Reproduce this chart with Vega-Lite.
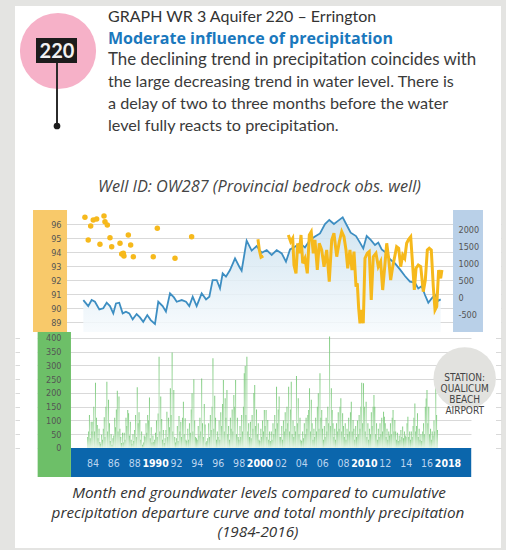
{
"$schema":"https://vega.github.io/schema/vega-lite/v6.json",
"background":"#e4e4e2",
"padding":{"left":15,"top":6,"right":5,"bottom":2},
"spacing":0,
"config":{"view":{"stroke":null,"fill":"white"},"concat":{"spacing":0},"axis":{"labelOverlap":false,"labelBound":false}},
"resolve":{"scale":{"x":"independent","y":"independent"}},
"datasets":{
"level":[{"t":1983.47,"v":90.57},{"t":1983.93,"v":90.14},{"t":1984.25,"v":90.57},{"t":1984.56,"v":90.45},{"t":1984.97,"v":89.9},{"t":1985.34,"v":89.98},{"t":1985.66,"v":90.38},{"t":1985.97,"v":90.14},{"t":1986.28,"v":89.62},{"t":1986.53,"v":90.33},{"t":1986.84,"v":90.38},{"t":1987.16,"v":89.62},{"t":1987.47,"v":89.74},{"t":1987.78,"v":89.62},{"t":1988.10,"v":89.19},{"t":1988.47,"v":89.57},{"t":1988.78,"v":89.33},{"t":1989.09,"v":89.02},{"t":1989.47,"v":89.5},{"t":1989.79,"v":89.14},{"t":1990.19,"v":88.86},{"t":1990.50,"v":90.45},{"t":1990.91,"v":90.14},{"t":1991.22,"v":89.74},{"t":1991.60,"v":91.05},{"t":1991.97,"v":90.76},{"t":1992.23,"v":90.45},{"t":1992.70,"v":90.57},{"t":1993.10,"v":90.45},{"t":1993.41,"v":90.14},{"t":1993.73,"v":90.81},{"t":1994.10,"v":90.14},{"t":1994.57,"v":91.05},{"t":1994.98,"v":90.62},{"t":1995.29,"v":90.81},{"t":1995.60,"v":92.0},{"t":1995.98,"v":92.0},{"t":1996.29,"v":91.4},{"t":1996.54,"v":92.48},{"t":1996.85,"v":92.24},{"t":1997.23,"v":92.71},{"t":1997.70,"v":93.55},{"t":1998.10,"v":92.95},{"t":1998.32,"v":92.67},{"t":1998.79,"v":94.81},{"t":1999.26,"v":94.1},{"t":1999.73,"v":94.43},{"t":2000.20,"v":93.95},{"t":2000.67,"v":94.14},{"t":2001.14,"v":93.79},{"t":2001.61,"v":94.14},{"t":2002.08,"v":93.9},{"t":2002.48,"v":93.31},{"t":2002.86,"v":94.19},{"t":2003.32,"v":94.38},{"t":2003.79,"v":94.62},{"t":2004.26,"v":94.33},{"t":2004.73,"v":94.86},{"t":2005.20,"v":95.1},{"t":2005.67,"v":95.33},{"t":2006.14,"v":96.0},{"t":2006.54,"v":96.29},{"t":2006.98,"v":96.0},{"t":2007.39,"v":96.24},{"t":2007.80,"v":96.48},{"t":2008.17,"v":95.93},{"t":2008.55,"v":95.38},{"t":2009.05,"v":95.14},{"t":2009.42,"v":94.67},{"t":2009.73,"v":94.26},{"t":2010.05,"v":95.14},{"t":2010.43,"v":94.86},{"t":2010.83,"v":94.5},{"t":2011.14,"v":94.67},{"t":2011.46,"v":94.19},{"t":2011.86,"v":93.95},{"t":2012.24,"v":93.48},{"t":2012.71,"v":93.19},{"t":2013.17,"v":92.76},{"t":2013.64,"v":92.29},{"t":2014.11,"v":91.88},{"t":2014.58,"v":91.81},{"t":2014.89,"v":91.4},{"t":2015.21,"v":91.57},{"t":2015.52,"v":90.93},{"t":2015.83,"v":90.38},{"t":2016.15,"v":90.69},{"t":2016.46,"v":90.93},{"t":2016.77,"v":90.52},{"t":2016.99,"v":90.62}],
"depPts":[{"t":1983.62,"d":2374},{"t":1984.16,"d":2118},{"t":1984.40,"d":2294},{"t":1984.72,"d":2324},{"t":1985.41,"d":2412},{"t":1985.50,"d":2244},{"t":1985.72,"d":2147},{"t":1983.93,"d":1706},{"t":1985.03,"d":1579},{"t":1985.97,"d":1774},{"t":1986.13,"d":1509},{"t":1986.91,"d":1609},{"t":1987.69,"d":1853},{"t":1987.91,"d":1559},{"t":1987.07,"d":1294},{"t":1987.28,"d":1235},{"t":1987.22,"d":1315},{"t":1988.16,"d":1215},{"t":1990.03,"d":1215},{"t":1990.41,"d":2050},{"t":1992.07,"d":1168},{"t":1993.63,"d":1803}],
"dep":[{"s":"a","t":1999.85,"d":1726},{"s":"a","t":1999.98,"d":1412},{"s":"a","t":2000.14,"d":1197},{"s":"a","t":2000.35,"d":1235},
{"s":"b","t":2002.70,"d":1853},{"s":"b","t":2002.92,"d":1656},{"s":"b","t":2003.11,"d":1756},{"s":"b","t":2003.23,"d":971},{"s":"b","t":2003.42,"d":726},{"s":"b","t":2003.58,"d":1609},{"s":"b","t":2003.73,"d":1315},{"s":"b","t":2003.89,"d":1853},{"s":"b","t":2004.05,"d":1021},{"s":"b","t":2004.26,"d":1168},{"s":"b","t":2004.48,"d":726},{"s":"b","t":2004.67,"d":1853},{"s":"b","t":2004.85,"d":1950},{"s":"b","t":2005.04,"d":1315},{"s":"b","t":2005.20,"d":1706},{"s":"b","t":2005.42,"d":824},{"s":"b","t":2005.60,"d":1609},{"s":"b","t":2005.83,"d":1412},{"s":"b","t":2006.05,"d":921},{"s":"b","t":2006.30,"d":1412},{"s":"b","t":2006.54,"d":479},{"s":"b","t":2006.77,"d":1706},{"s":"b","t":2006.98,"d":1903},{"s":"b","t":2007.24,"d":1215},{"s":"b","t":2007.48,"d":1656},{"s":"b","t":2007.71,"d":1950},{"s":"b","t":2007.92,"d":1803},{"s":"b","t":2008.11,"d":1412},{"s":"b","t":2008.27,"d":874},{"s":"b","t":2008.48,"d":1412},{"s":"b","t":2008.67,"d":824},{"s":"b","t":2008.86,"d":1362},{"s":"b","t":2009.05,"d":332},{"s":"b","t":2009.17,"d":432},{"s":"b","t":2009.30,"d":-303},{"s":"b","t":2009.42,"d":-744},{"s":"b","t":2009.58,"d":-353},{"s":"b","t":2009.73,"d":-744},{"s":"b","t":2009.89,"d":1168},{"s":"b","t":2010.11,"d":1315},{"s":"b","t":2010.29,"d":1362},{"s":"b","t":2010.48,"d":-59},{"s":"b","t":2010.67,"d":1215},{"s":"b","t":2010.92,"d":1315},{"s":"b","t":2011.14,"d":921},{"s":"b","t":2011.36,"d":1068},{"s":"b","t":2011.55,"d":235},{"s":"b","t":2011.77,"d":1021},{"s":"b","t":2011.93,"d":1609},{"s":"b","t":2012.11,"d":1168},{"s":"b","t":2012.30,"d":529},{"s":"b","t":2012.49,"d":921},{"s":"b","t":2012.71,"d":1265},{"s":"b","t":2012.86,"d":1509},{"s":"b","t":2013.05,"d":1462},{"s":"b","t":2013.24,"d":921},{"s":"b","t":2013.43,"d":1265},{"s":"b","t":2013.62,"d":1168},{"s":"b","t":2013.80,"d":1609},{"s":"b","t":2013.99,"d":1726},{"s":"b","t":2014.18,"d":1803},{"s":"b","t":2014.37,"d":921},{"s":"b","t":2014.52,"d":235},{"s":"b","t":2014.68,"d":874},{"s":"b","t":2014.89,"d":971},{"s":"b","t":2015.12,"d":921},{"s":"b","t":2015.36,"d":185},{"s":"b","t":2015.55,"d":529},{"s":"b","t":2015.74,"d":1412},{"s":"b","t":2015.92,"d":1462},{"s":"b","t":2016.11,"d":1412},{"s":"b","t":2016.30,"d":332},{"s":"b","t":2016.46,"d":-353},{"s":"b","t":2016.62,"d":-256},{"s":"b","t":2016.80,"d":824},{"s":"b","t":2016.99,"d":579},{"s":"b","t":2017.11,"d":824}],
"precip":[
{"t":1983.54,"p":40},{"t":1983.63,"p":60},{"t":1983.71,"p":120},{"t":1983.79,"p":35},{"t":1983.88,"p":95},{"t":1983.96,"p":60},
{"t":1984.04,"p":95},{"t":1984.13,"p":150},{"t":1984.21,"p":60},{"t":1984.29,"p":237},{"t":1984.38,"p":110},{"t":1984.46,"p":84},{"t":1984.54,"p":35},{"t":1984.63,"p":70},{"t":1984.71,"p":22},{"t":1984.79,"p":15},{"t":1984.88,"p":48},{"t":1984.96,"p":30},
{"t":1985.04,"p":70},{"t":1985.13,"p":112},{"t":1985.21,"p":40},{"t":1985.29,"p":150},{"t":1985.38,"p":241},{"t":1985.46,"p":60},{"t":1985.54,"p":175},{"t":1985.63,"p":90},{"t":1985.71,"p":25},{"t":1985.79,"p":50},{"t":1985.88,"p":12},{"t":1985.96,"p":35},
{"t":1986.04,"p":45},{"t":1986.13,"p":110},{"t":1986.21,"p":75},{"t":1986.29,"p":140},{"t":1986.38,"p":208},{"t":1986.46,"p":60},{"t":1986.54,"p":187},{"t":1986.63,"p":70},{"t":1986.71,"p":40},{"t":1986.79,"p":18},{"t":1986.88,"p":55},{"t":1986.96,"p":20},
{"t":1987.04,"p":55},{"t":1987.13,"p":30},{"t":1987.21,"p":110},{"t":1987.29,"p":80},{"t":1987.38,"p":138},{"t":1987.46,"p":126},{"t":1987.54,"p":45},{"t":1987.63,"p":95},{"t":1987.71,"p":30},{"t":1987.79,"p":15},{"t":1987.88,"p":50},{"t":1987.96,"p":25},
{"t":1988.04,"p":65},{"t":1988.13,"p":120},{"t":1988.21,"p":40},{"t":1988.29,"p":221},{"t":1988.38,"p":90},{"t":1988.46,"p":130},{"t":1988.54,"p":102},{"t":1988.63,"p":30},{"t":1988.71,"p":60},{"t":1988.79,"p":12},{"t":1988.88,"p":20},{"t":1988.96,"p":45},
{"t":1989.04,"p":40},{"t":1989.13,"p":90},{"t":1989.21,"p":55},{"t":1989.29,"p":120},{"t":1989.38,"p":100},{"t":1989.46,"p":184},{"t":1989.54,"p":35},{"t":1989.63,"p":75},{"t":1989.71,"p":20},{"t":1989.79,"p":45},{"t":1989.88,"p":22},{"t":1989.96,"p":30},
{"t":1990.04,"p":55},{"t":1990.13,"p":100},{"t":1990.21,"p":40},{"t":1990.29,"p":125},{"t":1990.38,"p":332},{"t":1990.46,"p":60},{"t":1990.54,"p":187},{"t":1990.63,"p":105},{"t":1990.71,"p":30},{"t":1990.79,"p":65},{"t":1990.88,"p":18},{"t":1990.96,"p":35},
{"t":1991.04,"p":65},{"t":1991.13,"p":132},{"t":1991.21,"p":40},{"t":1991.29,"p":110},{"t":1991.38,"p":75},{"t":1991.46,"p":217},{"t":1991.54,"p":120},{"t":1991.63,"p":347},{"t":1991.71,"p":60},{"t":1991.79,"p":211},{"t":1991.88,"p":40},{"t":1991.96,"p":20},
{"t":1992.04,"p":35},{"t":1992.13,"p":80},{"t":1992.21,"p":25},{"t":1992.29,"p":116},{"t":1992.38,"p":60},{"t":1992.46,"p":95},{"t":1992.54,"p":40},{"t":1992.63,"p":110},{"t":1992.71,"p":168},{"t":1992.79,"p":50},{"t":1992.88,"p":108},{"t":1992.96,"p":30},
{"t":1993.04,"p":25},{"t":1993.13,"p":70},{"t":1993.21,"p":30},{"t":1993.29,"p":90},{"t":1993.38,"p":55},{"t":1993.46,"p":140},{"t":1993.54,"p":199},{"t":1993.63,"p":60},{"t":1993.71,"p":250},{"t":1993.79,"p":100},{"t":1993.88,"p":40},{"t":1993.96,"p":35},
{"t":1994.04,"p":30},{"t":1994.13,"p":80},{"t":1994.21,"p":45},{"t":1994.29,"p":110},{"t":1994.38,"p":60},{"t":1994.46,"p":253},{"t":1994.54,"p":90},{"t":1994.63,"p":40},{"t":1994.71,"p":160},{"t":1994.79,"p":85},{"t":1994.88,"p":20},{"t":1994.96,"p":25},
{"t":1995.04,"p":35},{"t":1995.13,"p":90},{"t":1995.21,"p":40},{"t":1995.29,"p":120},{"t":1995.38,"p":65},{"t":1995.46,"p":150},{"t":1995.54,"p":326},{"t":1995.63,"p":70},{"t":1995.71,"p":190},{"t":1995.79,"p":110},{"t":1995.88,"p":30},{"t":1995.96,"p":60},
{"t":1996.04,"p":40},{"t":1996.13,"p":100},{"t":1996.21,"p":30},{"t":1996.29,"p":130},{"t":1996.38,"p":80},{"t":1996.46,"p":160},{"t":1996.54,"p":247},{"t":1996.63,"p":60},{"t":1996.71,"p":181},{"t":1996.79,"p":110},{"t":1996.88,"p":211},{"t":1996.96,"p":50},
{"t":1997.04,"p":80},{"t":1997.13,"p":30},{"t":1997.21,"p":110},{"t":1997.29,"p":70},{"t":1997.38,"p":140},{"t":1997.46,"p":60},{"t":1997.54,"p":193},{"t":1997.63,"p":150},{"t":1997.71,"p":247},{"t":1997.79,"p":50},{"t":1997.88,"p":110},{"t":1997.96,"p":40},
{"t":1998.04,"p":30},{"t":1998.13,"p":80},{"t":1998.21,"p":40},{"t":1998.29,"p":120},{"t":1998.38,"p":60},{"t":1998.46,"p":150},{"t":1998.54,"p":272},{"t":1998.63,"p":298},{"t":1998.71,"p":120},{"t":1998.79,"p":332},{"t":1998.88,"p":60},{"t":1998.96,"p":90},
{"t":1999.04,"p":40},{"t":1999.13,"p":95},{"t":1999.21,"p":35},{"t":1999.29,"p":120},{"t":1999.38,"p":70},{"t":1999.46,"p":200},{"t":1999.54,"p":229},{"t":1999.63,"p":80},{"t":1999.71,"p":140},{"t":1999.79,"p":50},{"t":1999.88,"p":90},{"t":1999.96,"p":30},
{"t":2000.04,"p":25},{"t":2000.13,"p":70},{"t":2000.21,"p":40},{"t":2000.29,"p":100},{"t":2000.38,"p":60},{"t":2000.46,"p":138},{"t":2000.54,"p":80},{"t":2000.63,"p":138},{"t":2000.71,"p":40},{"t":2000.79,"p":102},{"t":2000.88,"p":30},{"t":2000.96,"p":60},
{"t":2001.04,"p":25},{"t":2001.13,"p":60},{"t":2001.21,"p":30},{"t":2001.29,"p":90},{"t":2001.38,"p":50},{"t":2001.46,"p":120},{"t":2001.54,"p":70},{"t":2001.63,"p":223},{"t":2001.71,"p":90},{"t":2001.79,"p":140},{"t":2001.88,"p":187},{"t":2001.96,"p":40},
{"t":2002.04,"p":40},{"t":2002.13,"p":80},{"t":2002.21,"p":30},{"t":2002.29,"p":100},{"t":2002.38,"p":60},{"t":2002.46,"p":130},{"t":2002.54,"p":70},{"t":2002.63,"p":150},{"t":2002.71,"p":90},{"t":2002.79,"p":223},{"t":2002.88,"p":60},{"t":2002.96,"p":140},
{"t":2003.04,"p":241},{"t":2003.13,"p":50},{"t":2003.21,"p":100},{"t":2003.29,"p":40},{"t":2003.38,"p":80},{"t":2003.46,"p":60},{"t":2003.54,"p":262},{"t":2003.63,"p":90},{"t":2003.71,"p":181},{"t":2003.79,"p":50},{"t":2003.88,"p":110},{"t":2003.96,"p":30},
{"t":2004.04,"p":25},{"t":2004.13,"p":60},{"t":2004.21,"p":35},{"t":2004.29,"p":90},{"t":2004.38,"p":50},{"t":2004.46,"p":110},{"t":2004.54,"p":70},{"t":2004.63,"p":120},{"t":2004.71,"p":138},{"t":2004.79,"p":217},{"t":2004.88,"p":60},{"t":2004.96,"p":175},
{"t":2005.04,"p":90},{"t":2005.13,"p":30},{"t":2005.21,"p":70},{"t":2005.29,"p":40},{"t":2005.38,"p":110},{"t":2005.46,"p":60},{"t":2005.54,"p":150},{"t":2005.63,"p":199},{"t":2005.71,"p":70},{"t":2005.79,"p":272},{"t":2005.88,"p":110},{"t":2005.96,"p":138},
{"t":2006.04,"p":70},{"t":2006.13,"p":30},{"t":2006.21,"p":80},{"t":2006.29,"p":40},{"t":2006.38,"p":110},{"t":2006.46,"p":60},{"t":2006.54,"p":150},{"t":2006.63,"p":90},{"t":2006.71,"p":405},{"t":2006.79,"p":80},{"t":2006.88,"p":217},{"t":2006.96,"p":138},
{"t":2007.04,"p":90},{"t":2007.13,"p":40},{"t":2007.21,"p":70},{"t":2007.29,"p":30},{"t":2007.38,"p":90},{"t":2007.46,"p":60},{"t":2007.54,"p":130},{"t":2007.63,"p":70},{"t":2007.71,"p":150},{"t":2007.79,"p":181},{"t":2007.88,"p":60},{"t":2007.96,"p":126},
{"t":2008.04,"p":80},{"t":2008.13,"p":40},{"t":2008.21,"p":90},{"t":2008.29,"p":30},{"t":2008.38,"p":70},{"t":2008.46,"p":50},{"t":2008.54,"p":110},{"t":2008.63,"p":60},{"t":2008.71,"p":130},{"t":2008.79,"p":168},{"t":2008.88,"p":60},{"t":2008.96,"p":102},
{"t":2009.04,"p":70},{"t":2009.13,"p":30},{"t":2009.21,"p":80},{"t":2009.29,"p":40},{"t":2009.38,"p":100},{"t":2009.46,"p":50},{"t":2009.54,"p":120},{"t":2009.63,"p":70},{"t":2009.71,"p":150},{"t":2009.79,"p":237},{"t":2009.88,"p":90},{"t":2009.96,"p":235},
{"t":2010.04,"p":150},{"t":2010.13,"p":60},{"t":2010.21,"p":168},{"t":2010.29,"p":40},{"t":2010.38,"p":90},{"t":2010.46,"p":30},{"t":2010.54,"p":70},{"t":2010.63,"p":50},{"t":2010.71,"p":130},{"t":2010.79,"p":80},{"t":2010.88,"p":150},{"t":2010.96,"p":193},
{"t":2011.04,"p":150},{"t":2011.13,"p":50},{"t":2011.21,"p":90},{"t":2011.29,"p":30},{"t":2011.38,"p":70},{"t":2011.46,"p":40},{"t":2011.54,"p":90},{"t":2011.63,"p":50},{"t":2011.71,"p":110},{"t":2011.79,"p":60},{"t":2011.88,"p":132},{"t":2011.96,"p":114},
{"t":2012.04,"p":90},{"t":2012.13,"p":40},{"t":2012.21,"p":70},{"t":2012.29,"p":30},{"t":2012.38,"p":60},{"t":2012.46,"p":45},{"t":2012.54,"p":90},{"t":2012.63,"p":50},{"t":2012.71,"p":110},{"t":2012.79,"p":138},{"t":2012.88,"p":60},{"t":2012.96,"p":102},
{"t":2013.04,"p":60},{"t":2013.13,"p":30},{"t":2013.21,"p":55},{"t":2013.29,"p":25},{"t":2013.38,"p":45},{"t":2013.46,"p":30},{"t":2013.54,"p":65},{"t":2013.63,"p":40},{"t":2013.71,"p":78},{"t":2013.79,"p":35},{"t":2013.88,"p":60},{"t":2013.96,"p":45},
{"t":2014.04,"p":40},{"t":2014.13,"p":90},{"t":2014.21,"p":114},{"t":2014.29,"p":40},{"t":2014.38,"p":60},{"t":2014.46,"p":30},{"t":2014.54,"p":60},{"t":2014.63,"p":40},{"t":2014.71,"p":80},{"t":2014.79,"p":110},{"t":2014.88,"p":162},{"t":2014.96,"p":60},
{"t":2015.04,"p":80},{"t":2015.13,"p":126},{"t":2015.21,"p":40},{"t":2015.29,"p":70},{"t":2015.38,"p":30},{"t":2015.46,"p":50},{"t":2015.54,"p":25},{"t":2015.63,"p":60},{"t":2015.71,"p":90},{"t":2015.79,"p":50},{"t":2015.88,"p":150},{"t":2015.96,"p":180},
{"t":2016.04,"p":211},{"t":2016.13,"p":90},{"t":2016.21,"p":150},{"t":2016.29,"p":50},{"t":2016.38,"p":70},{"t":2016.46,"p":30},{"t":2016.54,"p":60},{"t":2016.63,"p":45},{"t":2016.71,"p":100},{"t":2016.79,"p":60},{"t":2016.88,"p":229},{"t":2016.96,"p":120},
{"t":2017.04,"p":65}
]
},
"vconcat":[
{
"width":486,"height":204,
"data":{"values":[{}]},
"layer":[
{"mark":{"type":"point","filled":true,"fill":"#f6b1c8","opacity":1,"strokeWidth":0,"size":5800},
 "encoding":{"x":{"datum":43,"type":"quantitative","scale":{"domain":[0,486],"nice":false,"zero":false},"axis":null},
 "y":{"datum":45,"type":"quantitative","scale":{"domain":[0,204],"nice":false,"zero":false,"reverse":true},"axis":null}}},
{"mark":{"type":"rule","color":"#2b2b2b","strokeWidth":2},
 "encoding":{"x":{"datum":42,"type":"quantitative","axis":null},"y":{"datum":57,"type":"quantitative","axis":null},"y2":{"datum":120}}},
{"mark":{"type":"rect","color":"#1c1c1c"},
 "encoding":{"x":{"datum":21,"type":"quantitative","axis":null},"x2":{"datum":62},"y":{"datum":32,"type":"quantitative","axis":null},"y2":{"datum":57}}},
{"mark":{"type":"text","font":"Lato","fontWeight":"bold","fontSize":20,"color":"#f2f2f2","align":"center","baseline":"middle"},
 "encoding":{"x":{"datum":42,"type":"quantitative","axis":null},"y":{"datum":45.5,"type":"quantitative","axis":null},"text":{"value":"220"}}},
{"mark":{"type":"point","filled":true,"color":"#1c1c1c","opacity":1,"size":45},
 "encoding":{"x":{"datum":42,"type":"quantitative","axis":null},"y":{"datum":120,"type":"quantitative","axis":null}}},
{"mark":{"type":"text","font":"Lato","fontSize":16,"color":"#333333","align":"left","baseline":"middle"},
 "encoding":{"x":{"datum":93,"type":"quantitative","axis":null},"y":{"datum":11,"type":"quantitative","axis":null},"text":{"value":"GRAPH WR 3 Aquifer 220 – Errington"}}},
{"mark":{"type":"text","font":"Open Sans","fontSize":16,"fontWeight":"bold","color":"#1a78bd","align":"left","baseline":"middle"},
 "encoding":{"x":{"datum":93,"type":"quantitative","axis":null},"y":{"datum":33,"type":"quantitative","axis":null},"text":{"value":"Moderate influence of precipitation"}}},
{"mark":{"type":"text","font":"Lato","fontSize":16.9,"color":"#3a3a3a","align":"left","baseline":"middle"},
 "encoding":{"x":{"datum":93,"type":"quantitative","axis":null},"y":{"datum":54,"type":"quantitative","axis":null},"text":{"value":"The declining trend in precipitation coincides with"}}},
{"mark":{"type":"text","font":"Lato","fontSize":16.2,"color":"#3a3a3a","align":"left","baseline":"middle"},
 "encoding":{"x":{"datum":93,"type":"quantitative","axis":null},"y":{"datum":76,"type":"quantitative","axis":null},"text":{"value":"the large decreasing trend in water level. There is"}}},
{"mark":{"type":"text","font":"Lato","fontSize":16.2,"color":"#3a3a3a","align":"left","baseline":"middle"},
 "encoding":{"x":{"datum":93,"type":"quantitative","axis":null},"y":{"datum":98,"type":"quantitative","axis":null},"text":{"value":"a delay of two to three months before the water"}}},
{"mark":{"type":"text","font":"Lato","fontSize":16.2,"color":"#3a3a3a","align":"left","baseline":"middle"},
 "encoding":{"x":{"datum":93,"type":"quantitative","axis":null},"y":{"datum":120,"type":"quantitative","axis":null},"text":{"value":"level fully reacts to precipitation."}}},
{"mark":{"type":"text","font":"Open Sans","fontStyle":"italic","fontSize":16.3,"color":"#444444","align":"center","baseline":"middle"},
 "encoding":{"x":{"datum":244.5,"type":"quantitative","axis":null},"y":{"datum":181,"type":"quantitative","axis":null},"text":{"value":"Well ID: OW287  (Provincial bedrock obs. well)"}}}
]
},
{
"width":486,"height":122,
"layer":[
{"layer":[
 {"data":{"name":"level"},
  "mark":{"type":"area","opacity":0.85,"fill":{"gradient":"linear","x1":0,"y1":0,"x2":0,"y2":1,"stops":[{"offset":0,"color":"#c9e0ee"},{"offset":1,"color":"#f6fafd"}]}},
  "encoding":{"x":{"field":"t","type":"quantitative","scale":{"domain":[1977.06,2022.65],"nice":false,"zero":false},"axis":null},
   "y":{"field":"v","type":"quantitative","scale":{"domain":[88.29,97],"nice":false,"zero":false},
    "axis":{"orient":"left","title":null,"values":[89,90,91,92,93,94,95,96],"tickCount":50,"labels":false,"domain":false,"ticks":false,"grid":true,"gridColor":"#d9d9d9","gridWidth":1}},
   "y2":{"datum":88.29}}},
 {"data":{"name":"level"},
  "mark":{"type":"line","color":"#3d8ec2","strokeWidth":1.8},
  "encoding":{"x":{"field":"t","type":"quantitative"},"y":{"field":"v","type":"quantitative"}}},
 {"data":{"values":[{}]},
  "mark":{"type":"rect","color":"white"},
  "encoding":{"x":{"datum":1977.06,"type":"quantitative"},"x2":{"datum":1978.75},"y":{"datum":88.29,"type":"quantitative"},"y2":{"datum":97}}},
 {"data":{"values":[{}]},
  "mark":{"type":"rect","color":"white"},
  "encoding":{"x":{"datum":2020.96,"type":"quantitative"},"x2":{"datum":2022.65},"y":{"datum":88.29,"type":"quantitative"},"y2":{"datum":97}}}
]},
{"data":{"values":[{}]},
 "mark":{"type":"rect","color":"#f8c96a"},
 "encoding":{"x":{"datum":1978.75,"type":"quantitative"},"x2":{"datum":1981.94},
  "y":{"datum":88.29,"type":"quantitative","scale":{"domain":[88.29,97],"nice":false,"zero":false},
   "axis":{"orient":"left","offset":-35,"zindex":1,"title":null,"values":[89,90,91,92,93,94,95,96],"tickCount":50,"labelExpr":"'' + datum.value","domain":false,"ticks":false,"grid":false,"labelPadding":-11,"labelOverlap":false,"labelFont":"Liberation Sans Narrow, DejaVu Sans Condensed, Roboto, sans-serif","labelFontSize":9,"labelColor":"#555555"}},
  "y2":{"datum":97}}},
{"layer":[
 {"data":{"values":[{}]},
  "mark":{"type":"rect","color":"#b9d0e8"},
  "encoding":{"x":{"datum":2018.15,"type":"quantitative"},"x2":{"datum":2020.96},"y":{"datum":-1000,"type":"quantitative","scale":{"domain":[-1000,2588],"nice":false,"zero":false},
   "axis":{"orient":"right","offset":-33,"zindex":1,"title":null,"values":[-500,0,500,1000,1500,2000],"tickCount":50,"labelExpr":"'' + datum.value","domain":false,"ticks":false,"grid":false,"labelPadding":-10,"labelOverlap":false,"labelFont":"Liberation Sans Narrow, DejaVu Sans Condensed, Roboto, sans-serif","labelFontSize":9,"labelColor":"#555555"}},"y2":{"datum":2588}}},
 {"data":{"name":"depPts"},
  "mark":{"type":"point","filled":true,"color":"#f6b91c","opacity":1,"size":30},
  "encoding":{"x":{"field":"t","type":"quantitative"},"y":{"field":"d","type":"quantitative"}}},
 {"data":{"name":"dep"},
  "mark":{"type":"line","color":"#f6b91c","strokeWidth":3,"strokeJoin":"miter"},
  "encoding":{"x":{"field":"t","type":"quantitative"},"y":{"field":"d","type":"quantitative"},"detail":{"field":"s"}}}
]}
],
"resolve":{"scale":{"y":"independent"},"axis":{"y":"independent"}}
},
{
"width":486,"height":145,
"layer":[
{"layer":[
 {"data":{"name":"precip"},
  "mark":{"type":"bar","size":1,"opacity":0.85,"fill":{"gradient":"linear","x1":0,"y1":0,"x2":0,"y2":1,"stops":[{"offset":0,"color":"#6cc46c"},{"offset":1,"color":"#dff2df"}]}},
  "encoding":{"x":{"field":"t","type":"quantitative","scale":{"domain":[1977.06,2022.65],"nice":false,"zero":false},
    "axis":{"orient":"bottom","offset":-28,"zindex":1,"title":null,"values":[1984,1986,1988,1990,1992,1994,1996,1998,2000,2002,2004,2006,2008,2010,2012,2014,2016,2018],"tickCount":50,
     "labelExpr":"indexof([1990,2000,2010,2018], datum.value) >= 0 ? '' + datum.value : slice('' + datum.value, 2)",
     "labelFontWeight":{"condition":{"test":"indexof([1990,2000,2010,2018], datum.value) >= 0","value":"bold"},"value":"normal"},
     "labelColor":{"condition":{"test":"indexof([1990,2000,2010,2018], datum.value) >= 0","value":"#ffffff"},"value":"#bdd5ef"},
     "labelFont":"Liberation Sans Narrow, DejaVu Sans Condensed, Roboto, sans-serif","labelFontSize":10.5,"labelBaseline":"middle","labelPadding":14,"labelOverlap":false,"labelFlush":false,"labelBound":false,"domain":false,"ticks":false,"grid":false}},
   "y":{"field":"p","type":"quantitative","scale":{"domain":[-105.5,421.8],"nice":false,"zero":false},
    "axis":{"orient":"left","title":null,"values":[0,50,100,150,200,250,300,350,400],"tickCount":50,"labels":false,"domain":false,"ticks":false,"grid":true,"gridColor":"#d9d9d9","gridWidth":1}}}},
 {"data":{"values":[{}]},
  "mark":{"type":"rect","color":"#0b66ac"},
  "encoding":{"x":{"datum":1981.94,"type":"quantitative"},"x2":{"datum":2020.30},"y":{"datum":-105.5,"type":"quantitative"},"y2":{"datum":0}}},
 {"data":{"values":[{}]},
  "mark":{"type":"rect","color":"white"},
  "encoding":{"x":{"datum":1977.06,"type":"quantitative"},"x2":{"datum":1978.75},"y":{"datum":-105.5,"type":"quantitative"},"y2":{"datum":421.8}}},
 {"data":{"values":[{}]},
  "mark":{"type":"rect","color":"white"},
  "encoding":{"x":{"datum":2020.30,"type":"quantitative"},"x2":{"datum":2022.65},"y":{"datum":-105.5,"type":"quantitative"},"y2":{"datum":421.8}}},
 {"data":{"values":[{}]},
  "mark":{"type":"point","filled":true,"color":"#e2e2df","opacity":1,"size":3900,"clip":true},
  "encoding":{"x":{"datum":2019.65,"type":"quantitative"},"y":{"datum":253,"type":"quantitative"}}},
 {"data":{"values":[{}]},
  "mark":{"type":"text","font":"Liberation Sans Narrow, DejaVu Sans Condensed, Roboto, sans-serif","fontSize":10,"color":"#444444","align":"center","baseline":"middle","lineHeight":11},
  "encoding":{"x":{"datum":2019.65,"type":"quantitative"},"y":{"datum":253,"type":"quantitative"},"text":{"value":["STATION:","QUALICUM","BEACH","AIRPORT"]}}}
]},
{"data":{"values":[{}]},
 "mark":{"type":"rect","color":"#6dbf68"},
 "encoding":{"x":{"datum":1978.75,"type":"quantitative"},"x2":{"datum":1981.94},
  "y":{"datum":-105.5,"type":"quantitative","scale":{"domain":[-105.5,421.8],"nice":false,"zero":false},
   "axis":{"orient":"left","offset":-35,"zindex":1,"title":null,"values":[0,50,100,150,200,250,300,350,400],"tickCount":50,"labelExpr":"'' + datum.value","domain":false,"ticks":false,"grid":false,"labelPadding":-11,"labelOverlap":false,"labelFont":"Liberation Sans Narrow, DejaVu Sans Condensed, Roboto, sans-serif","labelFontSize":9,"labelColor":"#555555"}},
  "y2":{"datum":421.8}}}
],
"resolve":{"scale":{"y":"independent"},"axis":{"y":"independent"}}
},
{
"width":486,"height":71,
"data":{"values":[{}]},
"layer":[
{"mark":{"type":"text","font":"Open Sans","fontStyle":"italic","fontSize":15.3,"color":"#333333","align":"center","baseline":"middle"},
 "encoding":{"x":{"datum":244,"type":"quantitative","scale":{"domain":[0,486],"nice":false,"zero":false},"axis":null},
 "y":{"datum":15.5,"type":"quantitative","scale":{"domain":[0,71],"nice":false,"zero":false,"reverse":true},"axis":null},"text":{"value":"Month end groundwater levels compared to cumulative"}}},
{"mark":{"type":"text","font":"Open Sans","fontStyle":"italic","fontSize":15.3,"color":"#333333","align":"center","baseline":"middle"},
 "encoding":{"x":{"datum":243,"type":"quantitative","axis":null},"y":{"datum":35.5,"type":"quantitative","axis":null},"text":{"value":"precipitation departure curve and total monthly precipitation"}}},
{"mark":{"type":"text","font":"Open Sans","fontStyle":"italic","fontSize":15.3,"color":"#333333","align":"center","baseline":"middle"},
 "encoding":{"x":{"datum":243,"type":"quantitative","axis":null},"y":{"datum":55,"type":"quantitative","axis":null},"text":{"value":"(1984-2016)"}}}
]
}
]
}
